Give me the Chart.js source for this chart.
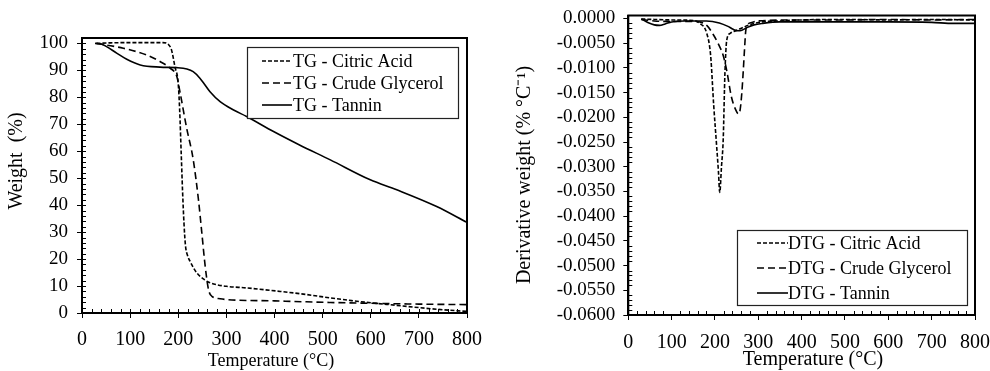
<!DOCTYPE html>
<html><head><meta charset="utf-8">
<script src="https://cdn.jsdelivr.net/npm/chart.js@4.4.1/dist/chart.umd.min.js"></script>
<style>
html,body{margin:0;padding:0;background:#fff;}
#wrap{position:relative;width:990px;height:371px;overflow:hidden;background:#fff;}
#c1{position:absolute;left:0;top:0;}
#c2{position:absolute;left:495px;top:0;}
</style></head><body>
<div id="wrap"><canvas id="c1" width="495" height="371"></canvas><canvas id="c2" width="495" height="371"></canvas></div>
<script>
// ---------- axis ticks ----------
const tempTicks = [0, 100, 200, 300, 400, 500, 600, 700, 800];
const tempTickLabels = ['0', '100', '200', '300', '400', '500', '600', '700', '800'];
const weightTicks = [0, 10, 20, 30, 40, 50, 60, 70, 80, 90, 100];
const weightTickLabels = ['0', '10', '20', '30', '40', '50', '60', '70', '80', '90', '100'];
const dtgTicks = [0, -0.005, -0.010, -0.015, -0.020, -0.025, -0.030, -0.035, -0.040, -0.045, -0.050, -0.055, -0.060];
const dtgTickLabels = ['0.0000', '-0.0050', '-0.0100', '-0.0150', '-0.0200', '-0.0250', '-0.0300', '-0.0350', '-0.0400', '-0.0450', '-0.0500', '-0.0550', '-0.0600'];

// ---------- TG (weight %) ----------
const tgCitricT = [30, 60, 100, 140, 168, 180, 186, 193, 200, 203, 206, 209, 212, 215, 219, 225, 238, 255, 266, 280, 300, 342, 412, 460, 516, 560, 600, 650, 700, 750, 800];
const tgCitricW = [100, 100.2, 100.3, 100.3, 100.3, 99.5, 97.6, 91.4, 85, 75, 60, 45, 33, 25, 21.5, 19, 15, 12.3, 11.2, 10.5, 9.9, 9.3, 8.0, 7.0, 5.6, 4.6, 3.8, 2.9, 2.0, 1.2, 0.6];

const tgGlycerolT = [30, 50, 86, 134, 162, 183, 197, 204, 217, 231, 242, 249, 256, 263, 270, 287, 300, 400, 516, 600, 700, 800];
const tgGlycerolW = [100, 99.4, 98.2, 95.7, 93.3, 90.8, 87.7, 81.6, 69, 57, 42, 29.7, 17.3, 8.6, 6.2, 5.3, 5.0, 4.5, 3.9, 3.6, 3.3, 3.1];

const tgTanninT = [27, 40, 51, 72, 93, 121, 162, 197, 218, 231, 245, 266, 287, 315, 342, 398, 450, 516, 599, 654, 737, 800];
const tgTanninW = [100, 99.8, 98.8, 96.4, 94.1, 92, 91.2, 91, 90.5, 89.5, 87.1, 82.1, 78.4, 75.3, 72.9, 67.3, 62.5, 56.8, 49.4, 45.7, 39.5, 33.6];

// ---------- DTG (% per °C) ----------
const dtgCitricT = [30, 60, 100, 150, 165, 181, 190, 197, 204, 208, 211, 215, 219, 223, 227, 235, 250, 270, 300, 350, 400, 500, 600, 700, 800];
const dtgCitricV = [-0.0001, -0.0002, -0.0003, -0.0004, -0.0010, -0.0030, -0.0075, -0.0175, -0.0260, -0.0310, -0.0352, -0.0300, -0.0245, -0.0110, -0.0045, -0.0030, -0.0024, -0.0016, -0.0008, -0.0005, -0.0003, -0.0002, -0.0003, -0.0002, -0.0003];

const dtgGlycerolT = [30, 60, 100, 150, 181, 197, 207, 219, 227, 238, 248, 254, 258, 262, 265, 268, 271, 275, 285, 300, 400, 500, 600, 700, 800];
const dtgGlycerolV = [-0.0002, -0.0005, -0.0006, -0.0006, -0.0014, -0.0034, -0.0050, -0.0075, -0.0105, -0.0159, -0.0185, -0.0193, -0.0185, -0.0150, -0.0110, -0.0065, -0.0025, -0.0013, -0.0008, -0.0005, -0.0003, -0.0003, -0.0002, -0.0003, -0.0002];

const dtgTanninT = [30, 45, 60, 72, 85, 100, 130, 180, 210, 230, 242, 252, 262, 275, 290, 310, 350, 400, 500, 600, 700, 750, 800];
const dtgTanninV = [-0.0001, -0.0008, -0.0013, -0.0014, -0.0011, -0.0007, -0.0005, -0.0005, -0.0009, -0.0016, -0.0022, -0.0025, -0.0024, -0.0018, -0.0013, -0.0010, -0.0007, -0.0007, -0.0007, -0.0007, -0.0008, -0.0010, -0.0010];

const tgLabels = ['TG - Citric Acid', 'TG - Crude Glycerol', 'TG - Tannin'];
const dtgLabels = ['DTG - Citric Acid', 'DTG - Crude Glycerol', 'DTG - Tannin'];
const tempTitle = 'Temperature (°C)';
const weightTitle = 'Weight  (%)';
const dtgTitle = 'Derivative weight (% °C⁻¹)';

// ---------- helpers ----------
const FONT = "'Liberation Serif', 'Times New Roman', serif";
const INK = '#000';
const DASHES = [[4, 2], [7, 4], []];
const pts = (xs, ys) => xs.map((x, i) => ({ x: x, y: ys[i] }));

function makeDatasets(labels, series) {
  return series.map((s, i) => ({
    label: labels[i],
    data: pts(s[0], s[1]),
    borderColor: INK,
    borderWidth: 1.6,
    borderDash: DASHES[i],
    pointRadius: 0,
    fill: false,
    cubicInterpolationMode: 'monotone'
  }));
}

function framePlugin(cfg) {
  return {
    id: 'frame',
    afterDatasetsDraw(chart) {
      const { ctx, chartArea: a, scales } = chart;
      const xs = scales.x, ys = scales.y;
      ctx.save();
      ctx.strokeStyle = INK;
      // frame
      ctx.lineWidth = 2;
      ctx.strokeRect(a.left, a.top, a.right - a.left, a.bottom - a.top);
      // minor / inner ticks
      ctx.lineWidth = 1;
      ctx.beginPath();
      for (let v = xs.min; v <= xs.max + 1e-9; v += cfg.xMinor) {
        const px = Math.round(xs.getPixelForValue(v)) + 0.5;
        const major = Math.abs(v / cfg.xMajor - Math.round(v / cfg.xMajor)) < 1e-6;
        ctx.moveTo(px, a.bottom);
        ctx.lineTo(px, a.bottom - (major ? cfg.majorIn : cfg.minorLen));
      }
      for (let k = 0; ; k++) {
        const v = cfg.yStart + k * cfg.yMinor;
        if (v > ys.max + 1e-12) break;
        const py = Math.round(ys.getPixelForValue(v)) + 0.5;
        const major = Math.abs(v / cfg.yMajor - Math.round(v / cfg.yMajor)) < 1e-6;
        ctx.moveTo(a.left, py);
        ctx.lineTo(a.left + (major ? cfg.majorIn : cfg.minorLen), py);
      }
      ctx.stroke();
      // axis titles
      ctx.fillStyle = INK;
      ctx.textAlign = 'center';
      ctx.textBaseline = 'middle';
      const T = cfg.titles;
      ctx.font = T.xSize + 'px ' + FONT;
      ctx.fillText(T.xText, T.xX, T.xY);
      ctx.save();
      ctx.translate(T.yX, T.yY);
      ctx.rotate(-Math.PI / 2);
      ctx.font = T.ySize + 'px ' + FONT;
      ctx.fillText(T.yText, 0, 0);
      ctx.restore();
      // legend box
      const L = cfg.legend;
      ctx.fillStyle = '#fff';
      ctx.fillRect(L.x, L.y, L.w, L.h);
      ctx.lineWidth = 1.2;
      ctx.strokeStyle = '#222';
      ctx.strokeRect(L.x + 0.5, L.y + 0.5, L.w, L.h);
      ctx.font = L.size + 'px ' + FONT;
      ctx.textBaseline = 'middle';
      ctx.textAlign = 'left';
      chart.data.datasets.forEach((ds, i) => {
        const yy = L.rows[i];
        ctx.strokeStyle = INK;
        ctx.lineWidth = 1.6;
        ctx.setLineDash(ds.borderDash || []);
        ctx.beginPath();
        ctx.moveTo(L.s0, yy);
        ctx.lineTo(L.s1, yy);
        ctx.stroke();
        ctx.setLineDash([]);
        ctx.fillStyle = INK;
        ctx.fillText(ds.label, L.tx, yy + 1);
      });
      ctx.restore();
    }
  };
}

function axisCommon() {
  return {
    grid: { display: true, drawOnChartArea: false, drawTicks: true, tickLength: 5, color: INK, lineWidth: 1 },
    border: { display: true, color: INK, width: 2 }
  };
}

// ---------- left chart: TG ----------
new Chart(document.getElementById('c1'), {
  type: 'line',
  data: {
    datasets: makeDatasets(tgLabels, [[tgCitricT, tgCitricW], [tgGlycerolT, tgGlycerolW], [tgTanninT, tgTanninW]])
  },
  options: {
    responsive: false, animation: false, devicePixelRatio: 1,
    layout: { padding: { left: 0, top: 38, right: 28, bottom: 0 } },
    plugins: { legend: { display: false }, tooltip: { enabled: false } },
    scales: {
      x: Object.assign(axisCommon(), {
        type: 'linear', min: 0, max: 800,
        afterBuildTicks: s => { s.ticks = tempTicks.map(v => ({ value: v })); },
        afterFit: s => { s.height = 58; s.paddingLeft = 0; s.paddingRight = 0; },
        ticks: { font: { family: FONT, size: 20 }, color: INK, padding: 10, maxRotation: 0, autoSkip: false,
          callback: v => tempTickLabels[tempTicks.indexOf(v)] },
        title: { display: false }
      }),
      y: Object.assign(axisCommon(), {
        type: 'linear', min: 0, max: 102,
        afterBuildTicks: s => { s.ticks = weightTicks.map(v => ({ value: v })); },
        afterFit: s => { s.width = 82; s.paddingTop = 0; s.paddingBottom = 0; },
        ticks: { font: { family: FONT, size: 19 }, color: INK, padding: 9, autoSkip: false,
          callback: v => weightTickLabels[weightTicks.indexOf(v)] },
        title: { display: false }
      })
    }
  },
  plugins: [framePlugin({
    xMinor: 20, xMajor: 100, yStart: 0, yMinor: 2, yMajor: 10, minorLen: 4, majorIn: 4,
    titles: { xText: tempTitle, xSize: 18, xX: 271, xY: 361, yText: weightTitle, ySize: 20, yX: 17, yY: 161 },
    legend: { x: 247, y: 47, w: 211, h: 71, rows: [61, 83, 105], s0: 262, s1: 292, tx: 293, size: 18 }
  })]
});

// ---------- right chart: DTG ----------
new Chart(document.getElementById('c2'), {
  type: 'line',
  data: {
    datasets: makeDatasets(dtgLabels, [[dtgCitricT, dtgCitricV], [dtgGlycerolT, dtgGlycerolV], [dtgTanninT, dtgTanninV]])
  },
  options: {
    responsive: false, animation: false, devicePixelRatio: 1,
    layout: { padding: { left: 0, top: 15.5, right: 15, bottom: 0 } },
    plugins: { legend: { display: false }, tooltip: { enabled: false } },
    scales: {
      x: Object.assign(axisCommon(), {
        type: 'linear', min: 0, max: 800,
        afterBuildTicks: s => { s.ticks = tempTicks.map(v => ({ value: v })); },
        afterFit: s => { s.height = 56; s.paddingLeft = 0; s.paddingRight = 0; },
        ticks: { font: { family: FONT, size: 20 }, color: INK, padding: 11, maxRotation: 0, autoSkip: false,
          callback: v => tempTickLabels[tempTicks.indexOf(v)] },
        title: { display: false }
      }),
      y: Object.assign(axisCommon(), {
        type: 'linear', min: -0.06, max: 0.0006,
        afterBuildTicks: s => { s.ticks = dtgTicks.map(v => ({ value: v })); },
        afterFit: s => { s.width = 133.3; s.paddingTop = 0; s.paddingBottom = 0; },
        ticks: { font: { family: FONT, size: 19 }, color: INK, padding: 8, autoSkip: false,
          callback: v => dtgTickLabels[dtgTicks.indexOf(v)] },
        title: { display: false }
      })
    }
  },
  plugins: [framePlugin({
    xMinor: 20, xMajor: 100, yStart: -0.06, yMinor: 0.001, yMajor: 0.005, minorLen: 4, majorIn: 0,
    titles: { xText: tempTitle, xSize: 20, xX: 318, xY: 360, yText: dtgTitle, ySize: 20, yX: 30, yY: 175 },
    legend: { x: 242, y: 230, w: 230, h: 75, rows: [243, 268, 293], s0: 262, s1: 293, tx: 293, size: 18 }
  })]
});
</script>
</body></html>
